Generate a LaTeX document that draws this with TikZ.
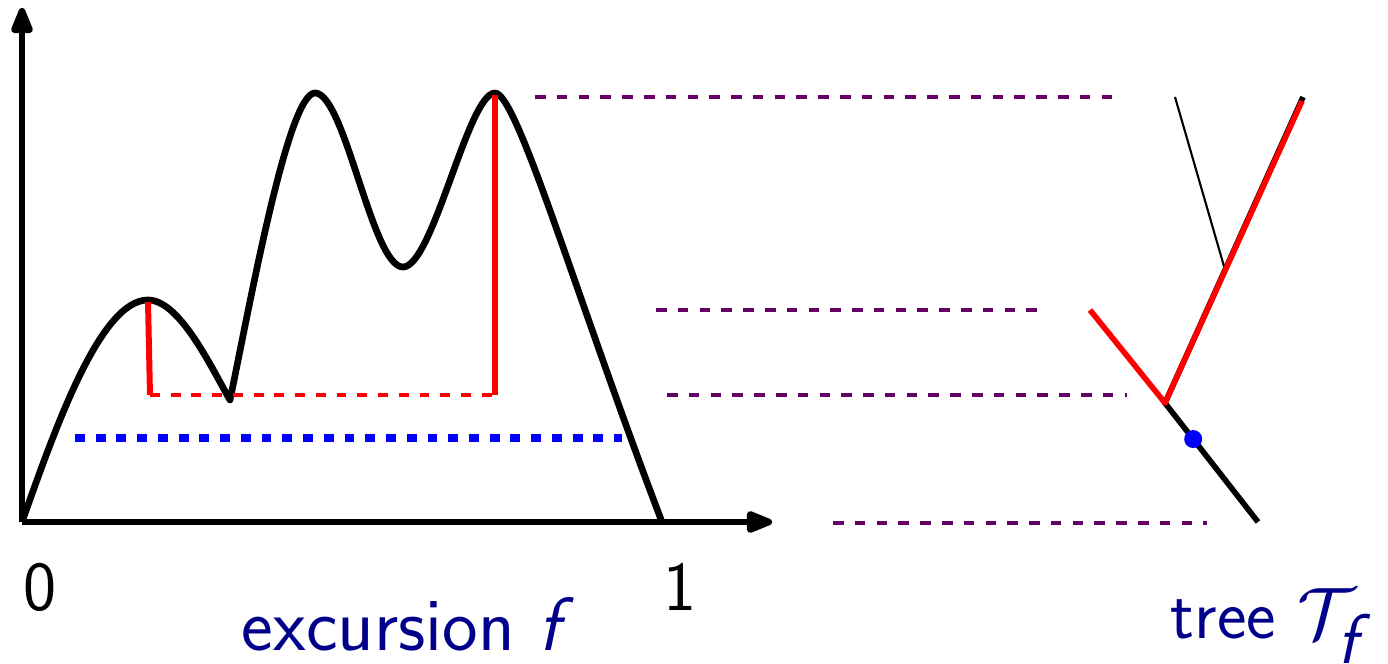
\documentclass[tikz,border=0pt]{standalone}
\usetikzlibrary{arrows.meta,calc}
\definecolor{labelblue}{RGB}{0,0,139}
\definecolor{levelpurple}{RGB}{102,0,102}
\definecolor{pathred}{RGB}{255,0,0}

\begin{document}
\begin{tikzpicture}[
    axis/.style={line width=1.9pt,-{Triangle[length=9pt,width=6.5pt,round]}},
    curve/.style={line width=1.9pt,line join=round},
    level/.style={levelpurple,line width=1pt,dash pattern=on 3pt off 3.2pt},
    redbar/.style={pathred,line width=1.7pt},
    reddash/.style={pathred,line width=0.9pt,dash pattern=on 2.8pt off 3.1pt},
    bluedash/.style={blue,line width=2pt,dash pattern=on 2.8pt off 3.1pt},
    lab/.style={font=\sffamily\fontsize{20}{24}\selectfont,inner sep=0pt}
  ]
  \useasboundingbox (0,0) rectangle (13.88,6.64);
  % axes
  \coordinate (O) at (0.22,1.42);
  \coordinate (ytip) at (0.22,6.56);
  \coordinate (xtip) at (7.72,1.42);
  % levels to the tree
  \coordinate (l1a) at (5.35,5.67);  \coordinate (l1b) at (11.22,5.67);
  \coordinate (l2a) at (6.56,3.54);  \coordinate (l2b) at (10.48,3.54);
  \coordinate (l3a) at (6.67,2.69);  \coordinate (l3b) at (11.27,2.69);
  \coordinate (l4a) at (8.33,1.41);  \coordinate (l4b) at (12.07,1.41);
  \draw[level] (l1a) -- (l1b);
  \draw[level] (l2a) -- (l2b);
  \draw[level] (l3a) -- (l3b);
  \draw[level] (l4a) -- (l4b);
  % the excursion
  \coordinate (P1) at (1.48,3.64);
  \coordinate (M1) at (2.30,2.64);
  \coordinate (P2) at (3.15,5.71);
  \coordinate (M2) at (4.03,3.97);
  \coordinate (P3) at (4.95,5.71);
  \coordinate (E) at (6.62,1.42);
  \draw[curve] (O) .. controls (0.55,2.35) and (1.0,3.64) .. (P1)
    .. controls (1.8,3.64) and (2.12,2.95) .. (M1)
    .. controls (2.5,3.6) and (2.88,5.71) .. (P2)
    .. controls (3.45,5.71) and (3.72,3.97) .. (M2)
    .. controls (4.33,3.97) and (4.68,5.71) .. (P3)
    .. controls (5.17,5.71) and (5.75,3.7) .. (E);
  \draw[axis] (O) -- (ytip);
  \draw[axis] (O) -- (xtip);
  % red part
  \coordinate (r1) at (1.48,3.62);
  \coordinate (r2) at (1.50,2.69);
  \coordinate (r3) at (4.95,2.69);
  \coordinate (r4) at (4.95,5.69);
  \draw[redbar] (r1) -- (r2);
  \draw[reddash] (r2) -- (r3);
  \draw[redbar] (r3) -- (r4);
  % blue level
  \coordinate (b1) at (0.75,2.26);
  \coordinate (b2) at (6.22,2.26);
  \draw[bluedash] (b1) -- (b2);
  % the tree
  \coordinate (R) at (12.58,1.42);
  \coordinate (B) at (11.65,2.61);
  \coordinate (A) at (10.90,3.54);
  \coordinate (C) at (13.03,5.67);
  \coordinate (Cr) at (13.02,5.63);
  \coordinate (J) at ($(B)!0.435!(C)$);
  \coordinate (D) at (11.75,5.67);
  \draw[line width=1.6pt] (R) -- (B) -- (C);
  \draw[line width=0.6pt] (J) -- (D);
  \draw[pathred,line width=1.6pt,line join=round] (A) -- (B) -- (Cr);
  \fill[blue] ($(R)!0.697!(B)$) circle (0.09);
  % labels
  \node[lab,anchor=base] (zero) at (0.40,0.53) {0};
  \node[lab,anchor=base] (one) at (6.80,0.53) {1};
  \node[lab,anchor=base,text=labelblue,font=\sffamily\fontsize{21.5}{26}\selectfont] (exc) at (4.08,0.13) {excursion \textit{f}};
  \node[lab,anchor=base west,text=labelblue] (tree) at (11.70,0.25) {tree $\mathcal{T}_{\textsf{\textit{f}}}$};
\end{tikzpicture}
\end{document}
